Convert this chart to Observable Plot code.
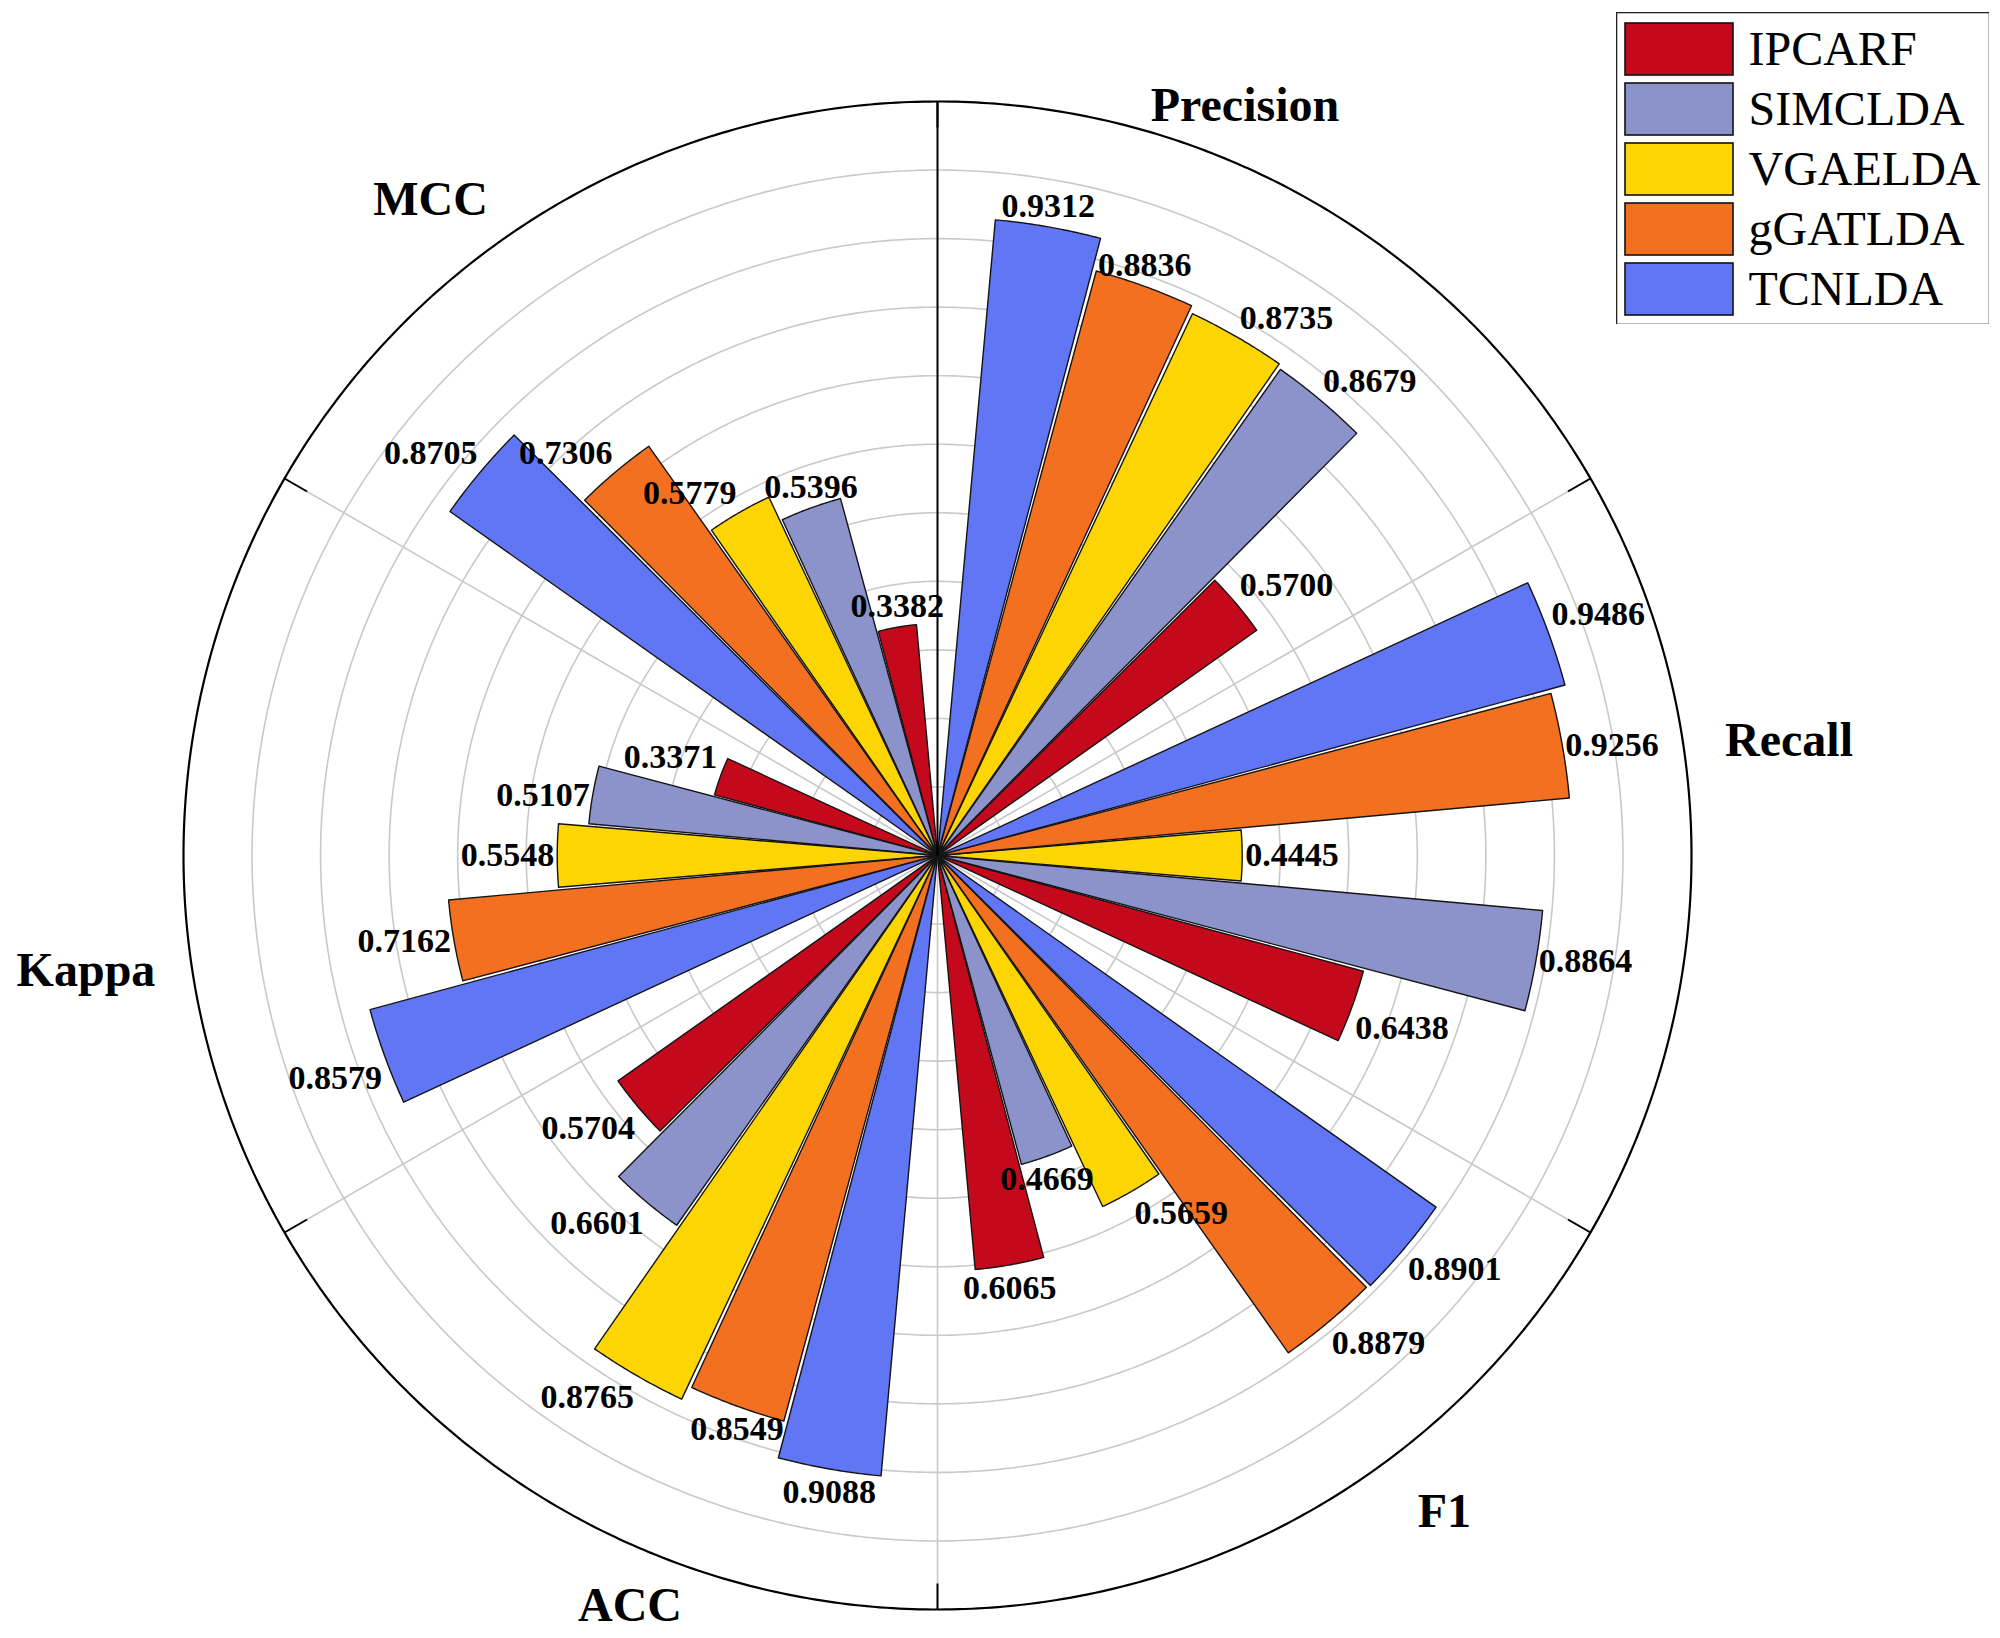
<!DOCTYPE html>
<html><head><meta charset="utf-8">
<script src="https://cdn.jsdelivr.net/npm/d3@7"></script>
<script src="https://cdn.jsdelivr.net/npm/@observablehq/plot@0.6"></script>
<style>
html,body{margin:0;padding:0;background:#fff;}
#wrap{position:relative;width:2000px;height:1638px;overflow:hidden;}
#legend{position:absolute;left:1616px;top:12px;}
</style></head><body>
<div id="wrap"><div id="chart"></div><div id="legend"></div></div>
<script>
// ---- data ----
const metrics = ["Precision", "Recall", "F1", "ACC", "Kappa", "MCC"];
const methods = ["IPCARF", "SIMCLDA", "VGAELDA", "gGATLDA", "TCNLDA"];
const colors  = ["#C4091D", "#8C93CA", "#FDD502", "#F37021", "#6176F5"];
const IPCARF  = [0.5700, 0.6438, 0.6065, 0.5704, 0.3371, 0.3382];
const SIMCLDA = [0.8679, 0.8864, 0.4669, 0.6601, 0.5107, 0.5396];
const VGAELDA = [0.8735, 0.4445, 0.5659, 0.8765, 0.5548, 0.5779];
const gGATLDA = [0.8836, 0.9256, 0.8879, 0.8549, 0.7162, 0.7306];
const TCNLDA  = [0.9312, 0.9486, 0.8901, 0.9088, 0.8579, 0.8705];
const gridTicks = [0.1, 0.2, 0.3, 0.4, 0.5, 0.6, 0.7, 0.8, 0.9, 1.0];
const radialMax = 1.1;

// ---- layout ----
const FONT = "'Liberation Serif', 'Times New Roman', serif";
const W = 2000, H = 1638;
const cx = 937, cy = 855, Rpx = 754;
const px = Rpx / radialMax;               // pixels per unit
const sector = 360 / metrics.length;
const lon = a => 180 - a;                 // clockwise angle from top -> longitude
const lat = r => 90 - r;                  // radius -> latitude (pole = centre)
const rad = a => a * Math.PI / 180;

const seriesList = [IPCARF, SIMCLDA, VGAELDA, gGATLDA, TCNLDA];
const rows = [];
metrics.forEach((m, k) => {
  methods.forEach((meth, j) => {
    const slot = methods.length - 1 - j;  // TCNLDA first clockwise
    const start = k * sector + 5 + 10 * slot;
    const mid = start + 5;
    const s = Math.sin(rad(mid)), c = Math.cos(rad(mid));
    rows.push({metric: m, method: meth, value: seriesList[j][k],
      a0: start + 0.2, a1: start + 9.8, mid,
      h: s > 0.42 ? 1 : s < -0.42 ? -1 : 0,
      v: c > 0.3 ? 1 : c < -0.3 ? -1 : 0});
  });
});

function wedge(a0, a1, r0, r1) {
  const n = Math.ceil((a1 - a0) / 0.25);
  const ring = [];
  for (let i = 0; i <= n; i++) ring.push([lon(a0 + (a1 - a0) * i / n), lat(r1)]);
  for (let i = n; i >= 0; i--) ring.push([lon(a0 + (a1 - a0) * i / n), lat(r0)]);
  ring.push(ring[0]);
  let g = {type: "Polygon", coordinates: [ring]};
  if (d3.geoArea(g) > 2 * Math.PI) g = {type: "Polygon", coordinates: [ring.slice().reverse()]};
  return g;
}
const circle = r => d3.geoCircle().center([0, 90]).radius(r).precision(0.5)();
const fmt = d3.format(".4f");

const catLabels = metrics.map((m, k) => {
  const a = k * sector + 22.3;
  return {metric: m, a, r: (780 + 80 * Math.abs(Math.sin(rad(a)))) / px};
});
const spokes = d3.range(0, 360, sector);

const valueLabels = [];
for (const h of [-1, 0, 1]) for (const v of [-1, 0, 1]) {
  const subset = rows.filter(d => d.h === h && d.v === v);
  if (!subset.length) continue;
  valueLabels.push(Plot.text(subset, {
    x: d => lon(d.mid), y: d => lat(d.value), text: d => fmt(d.value),
    textAnchor: h > 0 ? "start" : h < 0 ? "end" : "middle",
    lineAnchor: v > 0 ? "bottom" : v < 0 ? "top" : "middle",
    dx: 3 * h, dy: -(h === 0 ? 10 : 8) * v,
    fontSize: 34, fontWeight: "bold", fill: "black"
  }));
}

const chart = Plot.plot({
  width: W, height: H,
  marginLeft: cx - Rpx, marginRight: W - cx - Rpx,
  marginTop: cy - Rpx, marginBottom: H - cy - Rpx,
  projection: {
    type: "azimuthal-equidistant",
    rotate: [0, -90],
    clip: null,
    domain: circle(radialMax)
  },
  color: {domain: methods, range: colors},
  style: {fontFamily: FONT, background: "white"},
  marks: [
    Plot.geo(gridTicks, {geometry: circle, fill: "none", stroke: "#c9c9c9", strokeWidth: 1.6}),
    Plot.link(spokes.filter(a => a !== 0), {x1: lon, y1: lat(0.0001), x2: lon, y2: lat(radialMax),
      stroke: "#c9c9c9", strokeWidth: 1.6}),
    Plot.geo(rows, {geometry: d => wedge(d.a0, d.a1, 0.001, d.value),
      fill: "method", stroke: "#141414", strokeWidth: 1.4}),
    Plot.link([0], {x1: lon, y1: lat(0.0001), x2: lon, y2: lat(radialMax), stroke: "black", strokeWidth: 2}),
    Plot.geo([radialMax], {geometry: circle, fill: "none", stroke: "black", strokeWidth: 2.2}),
    Plot.link(spokes, {x1: lon, y1: lat(radialMax), x2: lon, y2: lat(radialMax - 26 / px),
      stroke: "black", strokeWidth: 2}),
    ...valueLabels,
    Plot.text(catLabels, {x: d => lon(d.a), y: d => lat(d.r), text: "metric",
      fontSize: 48, fontWeight: "bold", fill: "black"})
  ]
});
document.getElementById("chart").append(chart);

const legend = Plot.plot({
  width: 373, height: 312, margin: 0,
  x: {domain: [0, 373], axis: null},
  y: {type: "band", domain: methods, range: [5, 308.3], paddingInner: 0.133, paddingOuter: 0.0665, axis: null},
  color: {domain: methods, range: colors},
  style: {fontFamily: FONT, background: "white"},
  marks: [
    Plot.frame({stroke: "#222", strokeWidth: 1.6}),
    Plot.barX(methods, {x1: 9, x2: 117, y: d => d, fill: d => d, stroke: "#111", strokeWidth: 1.6}),
    Plot.text(methods, {x: 132, y: d => d, text: d => d, textAnchor: "start", fontSize: 48, fill: "black"})
  ]
});
document.getElementById("legend").append(legend);
</script>
</body></html>
